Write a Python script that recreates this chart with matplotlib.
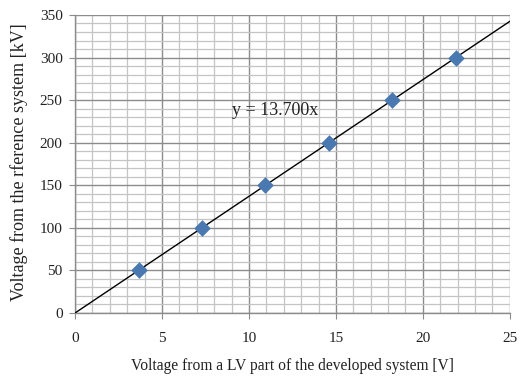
import matplotlib
matplotlib.use("Agg")
import matplotlib.pyplot as plt
from matplotlib.ticker import MultipleLocator
import numpy as np

plt.rcParams['font.family'] = ['Liberation Serif', 'DejaVu Serif']

lv_voltage = [3.65, 7.30, 10.95, 14.60, 18.25, 21.90]
ref_voltage = [50, 100, 150, 200, 250, 300]
slope = 13.7
trend_x = [0, 25]

fig = plt.figure(figsize=(5.25, 3.84), dpi=100)
ax = fig.add_axes([0.143, 0.185, 0.828, 0.776])

ax.set_xlim(0, 25)
ax.set_ylim(0, 350)
ax.xaxis.set_major_locator(MultipleLocator(5))
ax.xaxis.set_minor_locator(MultipleLocator(1))
ax.yaxis.set_major_locator(MultipleLocator(50))
ax.yaxis.set_minor_locator(MultipleLocator(10))

ax.grid(which='minor', color='#c4c4c4', linewidth=0.9)
ax.grid(which='major', color='#8c8c8c', linewidth=1.0)
ax.set_axisbelow(True)

for s in ['top', 'right']:
    ax.spines[s].set_visible(False)
for s in ['left', 'bottom']:
    ax.spines[s].set_color('#8c8c8c')
    ax.spines[s].set_linewidth(1.0)

ax.tick_params(which='major', length=4, color='#8c8c8c', labelsize=11, labelcolor='#222222')
ax.tick_params(axis='x', which='major', pad=10)
ax.tick_params(axis='y', which='major', pad=5)
ax.tick_params(which='minor', length=0)

tx = np.array(trend_x)
ax.plot(tx, slope * tx, color='black', linewidth=1.0, zorder=3)
ax.scatter(lv_voltage, ref_voltage, marker='D', s=72, color='#4a78b0', zorder=4, linewidths=0)

ax.text(9.0, 238, 'y = 13.700x', fontsize=13, va='center', ha='left', color='#222222')

ax.set_xlabel('Voltage from a LV part of the developed system [V]', fontsize=11.2, labelpad=9, color='#222222')
ax.set_ylabel('Voltage from the rference system [kV]', fontsize=13, color='#222222')
ax.yaxis.set_label_coords(-0.108, 0.505)

fig.savefig('out.png', dpi=100)
